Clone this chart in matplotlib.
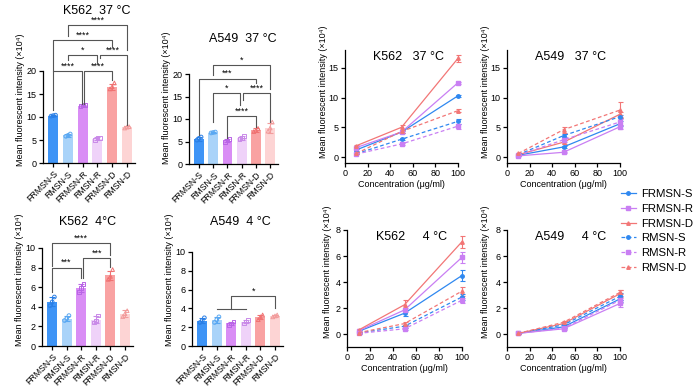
import matplotlib
matplotlib.use("Agg")
import matplotlib.pyplot as plt
from matplotlib.lines import Line2D

plt.rcParams["font.family"] = ["Liberation Sans", "DejaVu Sans"]
plt.rcParams["axes.linewidth"] = 0.9
plt.rcParams["xtick.major.width"] = 0.9
plt.rcParams["ytick.major.width"] = 0.9
plt.rcParams["xtick.major.size"] = 3
plt.rcParams["ytick.major.size"] = 3

# ---- bar panels -------------------------------------------------------
bar_labels = ["FRMSN-S", "RMSN-S", "FRMSN-R", "RMSN-R", "FRMSN-D", "RMSN-D"]
bar_colors = ["#3e94f6", "#a9d3f9", "#d98df5", "#efd2f9", "#f9a2a2", "#fdd4d4"]
dot_colors = ["#2a7fe6", "#5aa8f2", "#b964e6", "#c98ae8", "#f07272", "#f29c9c"]
bar_markers = ["o", "o", "s", "s", "^", "^"]

k562_37_mean = [10.3, 6.0, 12.5, 5.3, 16.5, 7.8]
k562_37_sd = [0.15, 0.3, 0.15, 0.3, 0.7, 0.2]
k562_37_pts = [[10.2, 10.3, 10.4], [5.8, 6.0, 6.3], [12.4, 12.5, 12.6],
               [5.0, 5.4, 5.5], [16.1, 16.6, 17.4], [7.6, 7.8, 7.9]]

a549_37_mean = [5.6, 7.0, 5.2, 5.8, 7.5, 8.1]
a549_37_sd = [0.4, 0.2, 0.3, 0.5, 0.4, 1.1]
a549_37_pts = [[5.3, 5.7, 6.0], [6.9, 7.0, 7.1], [4.9, 5.2, 5.5],
               [5.5, 5.8, 6.2], [7.2, 7.5, 7.9], [7.3, 8.0, 9.3]]

k562_4_mean = [4.5, 2.8, 5.9, 2.7, 7.2, 3.3]
k562_4_sd = [0.45, 0.25, 0.4, 0.35, 0.5, 0.35]
k562_4_pts = [[4.1, 4.5, 5.0], [2.6, 2.8, 3.1], [5.5, 5.9, 6.3],
              [2.4, 2.6, 3.1], [6.8, 7.1, 7.8], [3.0, 3.3, 3.6]]

a549_4_mean = [2.7, 2.8, 2.4, 2.6, 3.1, 3.2]
a549_4_sd = [0.25, 0.3, 0.2, 0.2, 0.25, 0.12]
a549_4_pts = [[2.5, 2.7, 3.0], [2.5, 2.8, 3.1], [2.2, 2.4, 2.6],
              [2.4, 2.6, 2.8], [2.8, 3.1, 3.3], [3.1, 3.2, 3.3]]

# significance brackets: (bar from, bar to, line y, left leg end, right leg end, stars)
k562_37_sig = [(1, 5, 29.9, 27.7, 24.5, "****"), (0, 4, 26.8, 20.1, 25.3, "****"),
               (1, 2.95, 23.4, 22.4, 21.6, "*"), (3.15, 5, 23.4, 22.9, 8.3, "****"),
               (0, 1.94, 20.0, 11.5, 12.9, "****"), (2.08, 4, 20.0, 12.9, 18.0, "****")]
a549_37_sig = [(1, 5, 22.0, 19.8, 16.6, "*"), (0, 4, 19.0, 6.5, 17.9, "***"),
               (1, 2.85, 15.7, 9.4, 13.1, "*"), (3.1, 5, 15.7, 14.2, 9.4, "****"),
               (2, 4, 10.7, 5.8, 8.3, "****")]
k562_4_sig = [(0, 4, 10.5, 8.2, 9.25, "****"), (2.12, 4, 9.0, 6.9, 8.1, "***"),
              (0, 1.95, 8.0, 5.5, 6.9, "***")]

# ---- line panels ------------------------------------------------------
conc = [10, 50, 100]
line_names = ["FRMSN-S", "FRMSN-R", "FRMSN-D", "RMSN-S", "RMSN-R", "RMSN-D"]
line_colors = ["#2f88f0", "#c97ff3", "#f27676", "#2f88f0", "#c97ff3", "#f27676"]
line_markers = ["o", "s", "^", "o", "s", "^"]

k562_37_line = [[1.2, 4.2, 10.3], [1.6, 4.2, 12.5], [1.9, 5.0, 16.6],
                [0.55, 3.0, 6.0], [0.5, 2.2, 5.2], [0.6, 4.3, 7.8]]
k562_37_err = [[0.1, 0.2, 0.15], [0.1, 0.2, 0.15], [0.1, 0.4, 0.6],
               [0.05, 0.15, 0.4], [0.05, 0.15, 0.4], [0.05, 0.3, 0.2]]
a549_37_line = [[0.3, 1.7, 5.6], [0.2, 0.8, 5.1], [0.4, 2.5, 7.2],
                [0.4, 3.6, 6.8], [0.3, 2.9, 5.9], [0.6, 4.6, 7.9]]
a549_37_err = [[0.1, 0.2, 0.4], [0.1, 0.1, 0.3], [0.1, 0.3, 0.4],
               [0.1, 0.3, 0.3], [0.1, 0.4, 0.5], [0.1, 0.5, 1.4]]
k562_4_line = [[0.2, 1.6, 4.5], [0.25, 1.85, 5.9], [0.3, 2.25, 7.1],
               [0.08, 0.6, 2.85], [0.05, 0.4, 2.6], [0.1, 0.8, 3.3]]
k562_4_err = [[0.1, 0.25, 0.45], [0.1, 0.15, 0.4], [0.1, 0.4, 0.45],
              [0.05, 0.1, 0.2], [0.05, 0.1, 0.2], [0.05, 0.1, 0.35]]
a549_4_line = [[0.05, 0.55, 2.7], [0.05, 0.4, 2.35], [0.05, 0.8, 3.1],
               [0.05, 0.7, 2.9], [0.05, 0.45, 2.6], [0.05, 0.9, 3.2]]
a549_4_err = [[0.03, 0.1, 0.25], [0.03, 0.1, 0.25], [0.03, 0.1, 0.25],
              [0.03, 0.1, 0.25], [0.03, 0.1, 0.2], [0.03, 0.1, 0.15]]

YLABEL = "Mean fluorescent intensity (\u00d710\u2074)"
W, H = 700, 390


def px_rect(x0, y_top, x1, y_bot):
    return [x0 / W, 1 - y_bot / H, (x1 - x0) / W, (y_bot - y_top) / H]


def style_ylabel(ax, x, y):
    ax.set_ylabel(YLABEL, fontsize=6.5)
    ax.yaxis.label.set_ha("left")
    ax.yaxis.set_label_coords(x, y)


def bar_panel(ax, mean, sd, pts, ymax, yticks):
    xs = range(len(bar_labels))
    ax.bar(xs, mean, width=0.68, color=bar_colors, zorder=1)
    for i in xs:
        ax.errorbar(i, mean[i], yerr=sd[i], color=dot_colors[i], capsize=2,
                    elinewidth=0.8, capthick=0.8, zorder=3)
        ax.scatter([i - 0.15, i, i + 0.15], pts[i], s=7, marker=bar_markers[i],
                   facecolors="none", edgecolors=dot_colors[i], linewidths=0.7,
                   zorder=4, clip_on=False)
    ax.set_xlim(-0.7, 5.55)
    ax.set_ylim(0, ymax)
    ax.set_yticks(yticks)
    ax.set_xticks(list(xs))
    ax.set_xticklabels(bar_labels, rotation=45, ha="right", rotation_mode="anchor",
                       fontsize=6.3)
    ax.tick_params(axis="y", labelsize=6.5, pad=1.5)
    ax.tick_params(axis="x", pad=1.5)
    ax.spines["top"].set_visible(False)
    ax.spines["right"].set_visible(False)


def bracket(ax, x1, x2, y, y1, y2, text):
    ax.plot([x1, x1, x2, x2], [y1, y, y, y2], color="#555555", lw=0.8,
            clip_on=False, zorder=5)
    ax.annotate(text, xy=((x1 + x2) / 2, y), xytext=(0, 0.3),
                textcoords="offset points", ha="center", va="bottom",
                fontsize=6.5, annotation_clip=False)


def line_panel(ax, values, errs, ymin, ymax, yticks, title):
    for k, name in enumerate(line_names):
        ls = "-" if k < 3 else (0, (3, 2))
        ax.errorbar(conc, values[k], yerr=errs[k], color=line_colors[k],
                    linestyle=ls, lw=0.9, marker=line_markers[k], markersize=2.5,
                    capsize=1.8, elinewidth=0.8, capthick=0.8, clip_on=False)
    ax.set_xlim(0, 100)
    ax.set_ylim(ymin, ymax)
    ax.set_xticks([0, 20, 40, 60, 80, 100])
    ax.set_yticks(yticks)
    ax.tick_params(labelsize=6.5, pad=1.5)
    ax.set_xlabel("Concentration (\u03bcg/ml)", fontsize=6.5, labelpad=1.5)
    ax.spines["top"].set_visible(False)
    ax.spines["right"].set_visible(False)
    ax.text(0.56, 0.94, title, transform=ax.transAxes, ha="center", va="center",
            fontsize=9)


fig = plt.figure(figsize=(7, 3.9), dpi=100)

# K562 37 bar
ax = fig.add_axes(px_rect(43, 71, 135, 163))
bar_panel(ax, k562_37_mean, k562_37_sd, k562_37_pts, 20, [0, 5, 10, 15, 20])
for b in k562_37_sig:
    bracket(ax, *b)
style_ylabel(ax, -0.2, -0.03)
fig.text(97 / W, 1 - 11 / H, "K562  37 \u00b0C", ha="center", va="center", fontsize=9)

# A549 37 bar
ax = fig.add_axes(px_rect(189, 74, 278, 164))
bar_panel(ax, a549_37_mean, a549_37_sd, a549_37_pts, 20, [0, 5, 10, 15, 20])
for b in a549_37_sig:
    bracket(ax, *b)
style_ylabel(ax, -0.2, 0.0)
fig.text(243 / W, 1 - 39 / H, "A549  37 \u00b0C", ha="center", va="center", fontsize=9)

# K562 4 bar
ax = fig.add_axes(px_rect(42, 248, 133, 346))
bar_panel(ax, k562_4_mean, k562_4_sd, k562_4_pts, 10, [0, 2, 4, 6, 8, 10])
for b in k562_4_sig:
    bracket(ax, *b)
style_ylabel(ax, -0.2, 0.0)
fig.text(88 / W, 1 - 222 / H, "K562  4\u00b0C", ha="center", va="center", fontsize=9)

# A549 4 bar
ax = fig.add_axes(px_rect(192, 252, 283, 346))
bar_panel(ax, a549_4_mean, a549_4_sd, a549_4_pts, 10, [0, 2, 4, 6, 8, 10])
ax.plot([1, 3], [3.9, 3.9], color="#555555", lw=0.8, zorder=5)
bracket(ax, 2, 5, 5.3, 3.9, 4.0, "*")
style_ylabel(ax, -0.2, 0.0)
fig.text(240 / W, 1 - 222 / H, "A549  4 \u00b0C", ha="center", va="center", fontsize=9)

# line panels
ax = fig.add_axes(px_rect(345, 50, 458, 163))
line_panel(ax, k562_37_line, k562_37_err, -1, 18, [0, 5, 10, 15], "K562   37 \u00b0C")
style_ylabel(ax, -0.15, 0.04)

ax = fig.add_axes(px_rect(507, 50, 620, 163))
line_panel(ax, a549_37_line, a549_37_err, -1, 18, [0, 5, 10, 15], "A549   37 \u00b0C")
style_ylabel(ax, -0.15, 0.04)

ax = fig.add_axes(px_rect(347, 230, 462, 347))
line_panel(ax, k562_4_line, k562_4_err, -1, 8, [0, 2, 4, 6, 8], "K562     4 \u00b0C")
style_ylabel(ax, -0.13, 0.08)

ax = fig.add_axes(px_rect(507, 230, 620, 347))
line_panel(ax, a549_4_line, a549_4_err, -1, 8, [0, 2, 4, 6, 8], "A549     4 \u00b0C")
style_ylabel(ax, -0.15, 0.08)

handles = [Line2D([], [], color=line_colors[k], lw=0.9, marker=line_markers[k],
                  markersize=2.5, linestyle="-" if k < 3 else (0, (3, 2)))
           for k in range(len(line_names))]
fig.legend(handles, line_names, loc="upper left",
           bbox_to_anchor=(621 / W, 1 - 189 / H), frameon=False, fontsize=8.2,
           handlelength=1.3, handletextpad=0.5, labelspacing=0.42,
           borderpad=0, borderaxespad=0)

fig.savefig("out.png", dpi=100)
